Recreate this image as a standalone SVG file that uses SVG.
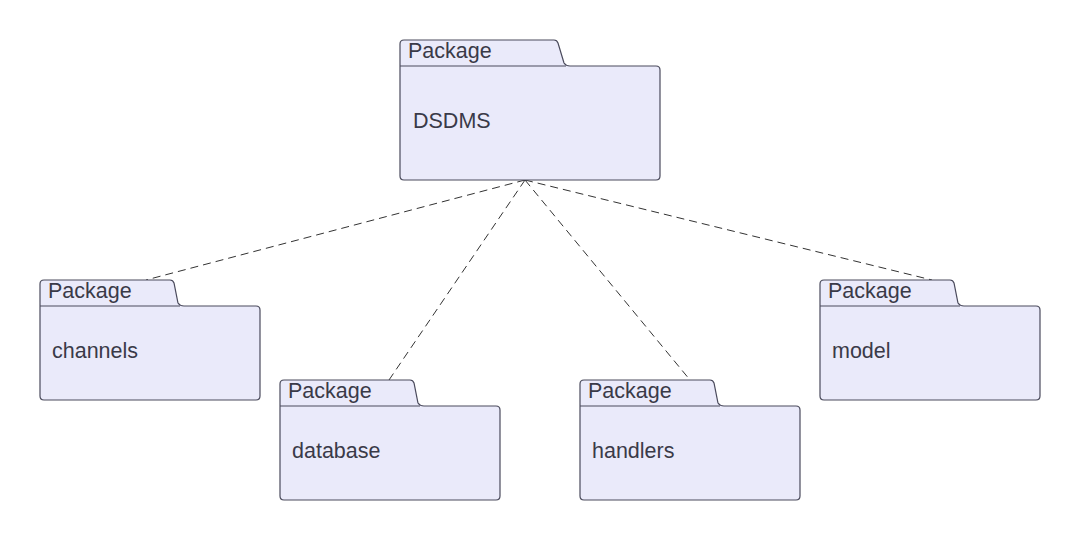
<svg xmlns="http://www.w3.org/2000/svg" width="1080" height="540" viewBox="0 0 1080 540">
<style>
.box{fill:#eaeafa;stroke:#4a4a5c;stroke-width:1.2}
.div{stroke:#4a4a5c;stroke-width:1.2;fill:none}
.t{font-family:"Liberation Sans",Arial,sans-serif;font-size:21.5px;fill:#3a3a48}
.c{stroke:#333;stroke-width:1;stroke-dasharray:8 5;fill:none}
</style>
<rect width="1080" height="540" fill="#fff"/>
<g id="connectors">
<line class="c" x1="525" y1="180" x2="146" y2="280"/>
<line class="c" x1="525" y1="180" x2="389" y2="380"/>
<line class="c" x1="525" y1="180" x2="690" y2="380"/>
<line class="c" x1="525" y1="180" x2="932" y2="280"/>
</g>
<g id="DSDMS">
<path class="box" d="M400,44 Q400,40 404,40 H554 Q557,40 558,43 L564,63 Q566,66 570,66 H656 Q660,66 660,70 V176 Q660,180 656,180 H404 Q400,180 400,176 Z"/>
<line class="div" x1="400" y1="66" x2="566" y2="66"/>
<text class="t" x="408" y="58">Package</text>
<text class="t" x="413" y="128">DSDMS</text>
</g>
<g id="channels">
<path class="box" d="M40,284 Q40,280 44,280 H170 Q173,280 174,283 L178,303 Q180,306 184,306 H256 Q260,306 260,310 V396 Q260,400 256,400 H44 Q40,400 40,396 Z"/>
<line class="div" x1="40" y1="306" x2="180" y2="306"/>
<text class="t" x="48" y="298">Package</text>
<text class="t" x="52" y="358">channels</text>
</g>
<g id="database">
<path class="box" d="M280,384 Q280,380 284,380 H410 Q413,380 414,383 L418,403 Q420,406 424,406 H496 Q500,406 500,410 V496 Q500,500 496,500 H284 Q280,500 280,496 Z"/>
<line class="div" x1="280" y1="406" x2="420" y2="406"/>
<text class="t" x="288" y="398">Package</text>
<text class="t" x="292" y="458">database</text>
</g>
<g id="handlers">
<path class="box" d="M580,384 Q580,380 584,380 H710 Q713,380 714,383 L718,403 Q720,406 724,406 H796 Q800,406 800,410 V496 Q800,500 796,500 H584 Q580,500 580,496 Z"/>
<line class="div" x1="580" y1="406" x2="720" y2="406"/>
<text class="t" x="588" y="398">Package</text>
<text class="t" x="592" y="458">handlers</text>
</g>
<g id="model">
<path class="box" d="M820,284 Q820,280 824,280 H950 Q953,280 954,283 L958,303 Q960,306 964,306 H1036 Q1040,306 1040,310 V396 Q1040,400 1036,400 H824 Q820,400 820,396 Z"/>
<line class="div" x1="820" y1="306" x2="960" y2="306"/>
<text class="t" x="828" y="298">Package</text>
<text class="t" x="832" y="358">model</text>
</g>
</svg>
